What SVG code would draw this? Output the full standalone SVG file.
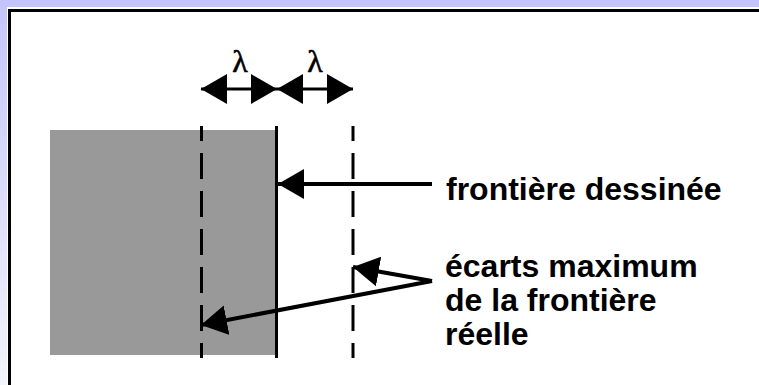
<svg xmlns="http://www.w3.org/2000/svg" width="759" height="385" viewBox="0 0 759 385">
<defs>
<linearGradient id="bg" x1="0" y1="0" x2="0" y2="1">
<stop offset="0" stop-color="#c4c4fa"/>
<stop offset="0.5" stop-color="#dcdcfa"/>
<stop offset="1" stop-color="#f4f4fc"/>
</linearGradient>
<marker id="ah" viewBox="0 0 26 30" refX="26" refY="15" markerWidth="26" markerHeight="30" markerUnits="userSpaceOnUse" orient="auto-start-reverse">
<path d="M26,15 L0,0 L0,30 Z" fill="#000"/>
</marker>
<style>
.ln{stroke:#000;stroke-width:3;fill:none}
.cn{stroke:#000;stroke-width:4;fill:none}
.dash{stroke:#000;stroke-width:3;fill:none;stroke-dasharray:26 12;stroke-dashoffset:11}
.lbl{font-family:"Liberation Sans",Arial,sans-serif;font-weight:bold;font-size:32px;fill:#000}
.lam{font-family:"Liberation Serif","Times New Roman",serif;font-size:32px;fill:#000;stroke:#000;stroke-width:0.6}
</style>
</defs>
<rect x="0" y="0" width="759" height="385" fill="url(#bg)"/>
<rect x="7" y="7" width="760" height="390" fill="#fff"/>
<rect x="9.5" y="10.5" width="760" height="390" fill="#fff" stroke="#000" stroke-width="3"/>
<g id="region">
<rect x="50" y="130" width="226" height="225" fill="#999"/>
</g>
<g id="boundaries">
<line class="ln" x1="276.5" y1="126" x2="276.5" y2="358"/>
<line class="dash" x1="201.5" y1="126" x2="201.5" y2="358"/>
<line class="dash" x1="353" y1="126" x2="353" y2="358"/>
</g>
<g id="lambda-left">
<line class="ln" x1="201" y1="89" x2="277" y2="89" marker-start="url(#ah)" marker-end="url(#ah)"/>
<text class="lam" x="240" y="72" text-anchor="middle">λ</text>
</g>
<g id="lambda-right">
<line class="ln" x1="277" y1="89" x2="353" y2="89" marker-start="url(#ah)" marker-end="url(#ah)"/>
<text class="lam" x="315" y="72" text-anchor="middle">λ</text>
</g>
<g id="connectors">
<line class="cn" x1="432" y1="184" x2="278" y2="184" marker-end="url(#ah)"/>
<line class="cn" x1="432" y1="281" x2="353" y2="267" marker-end="url(#ah)"/>
<line class="cn" x1="432" y1="281" x2="201" y2="325" marker-end="url(#ah)"/>
</g>
<g id="label-drawn">
<text class="lbl" x="446" y="200">frontière dessinée</text>
</g>
<g id="label-deviation">
<text class="lbl" x="445" y="277">écarts maximum</text>
<text class="lbl" x="445" y="311">de la frontière</text>
<text class="lbl" x="445" y="345">réelle</text>
</g>
</svg>
